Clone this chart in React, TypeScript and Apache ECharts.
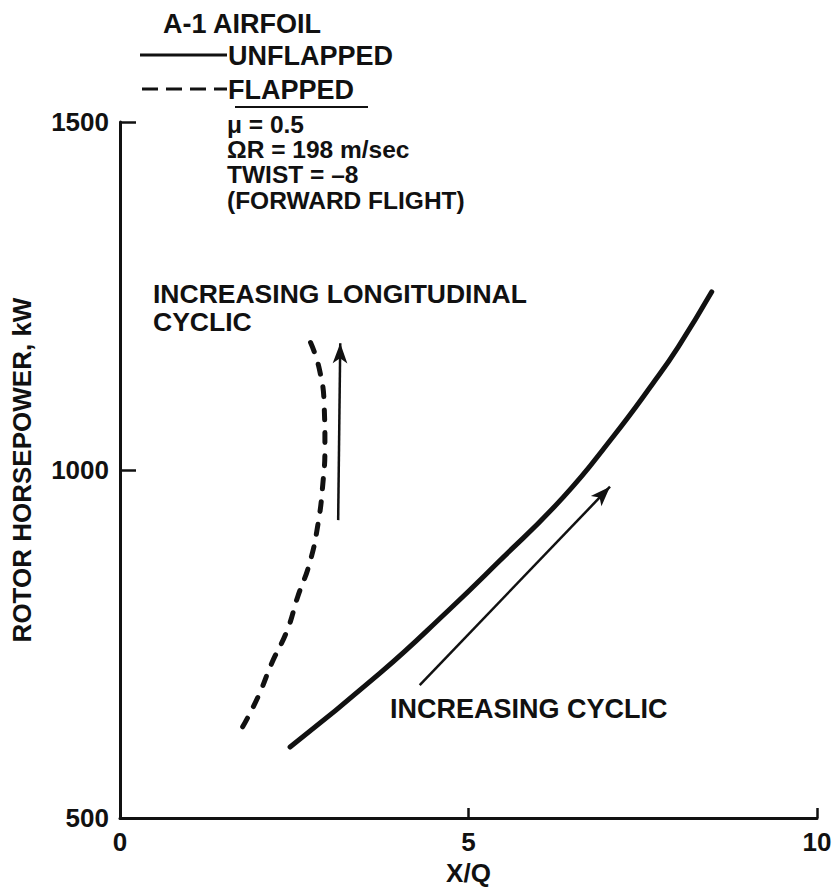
import React, { useEffect, useRef } from "react";
import * as echarts from "echarts";

// Unflapped rotor (solid) — X/Q vs rotor horsepower, kW
const unflappedX = [2.44, 3.73, 4.73, 5.41, 6.36, 7.06, 7.65, 8.01, 8.49];
const unflappedY = [602, 708, 800, 866, 961, 1046, 1125, 1177, 1256];

// Flapped rotor (dashed)
const flappedX = [1.76, 1.98, 2.18, 2.4, 2.55, 2.72, 2.84, 2.91, 2.94, 2.93, 2.86, 2.73];
const flappedY = [631, 674, 723, 770, 818, 866, 922, 980, 1033, 1091, 1145, 1184];

// Direction arrows: [x, kW] start and end
const longitudinalArrow = [
  [3.13, 928],
  [3.16, 1182],
];
const cyclicArrow = [
  [4.3, 691],
  [7.03, 976],
];

const xTicks = [0, 5, 10];
const yTicks = [500, 1000, 1500];

const conditions = ["\u03bc = 0.5", "\u03a9R = 198 m/sec", "TWIST = \u20138", "(FORWARD FLIGHT)"];

const FONT = '"Liberation Sans", Arial, Helvetica, sans-serif';
const INK = "#111";

function pairs(xs: number[], ys: number[]) {
  return xs.map((x, i) => [x, ys[i]]);
}

function label(text: string, x: number, y: number, fontSize = 27) {
  return {
    type: "text",
    x,
    y,
    silent: true,
    style: {
      text,
      fill: INK,
      fontFamily: FONT,
      fontSize,
      fontWeight: "bold",
      verticalAlign: "middle",
      align: "left",
    },
  };
}

export default function App() {
  const ref = useRef<HTMLDivElement>(null);

  useEffect(() => {
    if (!ref.current) return;
    const chart = echarts.init(ref.current, undefined, { renderer: "svg" });

    const axisText = {
      color: INK,
      fontFamily: FONT,
      fontSize: 26,
      fontWeight: "bold",
    };

    chart.setOption({
      animation: false,
      backgroundColor: "#fff",
      grid: {
        left: 120,
        right: 15,
        top: 122,
        bottom: 75,
        outerBoundsMode: "none",
      },
      xAxis: {
        type: "value",
        min: xTicks[0],
        max: xTicks[xTicks.length - 1],
        interval: 5,
        name: "X/Q",
        nameLocation: "middle",
        nameGap: 42,
        nameTextStyle: axisText,
        axisLine: { lineStyle: { color: INK, width: 3 } },
        axisTick: { inside: true, length: 10, lineStyle: { color: INK, width: 2.5 } },
        axisLabel: { ...axisText, margin: 11, formatter: (v: number) => String(v) },
        splitLine: { show: false },
      },
      yAxis: {
        type: "value",
        min: yTicks[0],
        max: yTicks[yTicks.length - 1],
        interval: 500,
        name: "ROTOR HORSEPOWER, kW",
        nameLocation: "middle",
        nameRotate: 90,
        nameGap: 85,
        nameTextStyle: axisText,
        axisLine: { onZero: false, lineStyle: { color: INK, width: 3 } },
        axisTick: { inside: true, length: 16, lineStyle: { color: INK, width: 2.5 } },
        axisLabel: { ...axisText, margin: 11, formatter: (v: number) => String(v) },
        splitLine: { show: false },
      },
      series: [
        {
          name: "UNFLAPPED",
          type: "line",
          data: pairs(unflappedX, unflappedY),
          smooth: 0.5,
          symbol: "none",
          silent: true,
          lineStyle: { color: INK, width: 5, cap: "round" },
        },
        {
          name: "FLAPPED",
          type: "line",
          data: pairs(flappedX, flappedY),
          smooth: 0.5,
          symbol: "none",
          silent: true,
          lineStyle: { color: INK, width: 5, type: [10, 13], cap: "round" },
        },
        {
          name: "arrows",
          type: "line",
          data: [],
          silent: true,
          markLine: {
            silent: true,
            animation: false,
            symbol: ["none", "arrow"],
            symbolSize: [11, 20],
            label: { show: false },
            lineStyle: { color: INK, width: 2.5, type: "solid" },
            emphasis: { disabled: true },
            data: [
              [
                { coord: longitudinalArrow[0], lineStyle: { curveness: -0.1 } },
                { coord: longitudinalArrow[1] },
              ],
              [{ coord: cyclicArrow[0] }, { coord: cyclicArrow[1] }],
            ],
          },
        },
      ],
      graphic: [
        label("A-1 AIRFOIL", 163, 24),
        {
          type: "line",
          silent: true,
          shape: { x1: 140, y1: 55, x2: 227, y2: 55 },
          style: { stroke: INK, lineWidth: 3 },
        },
        label("UNFLAPPED", 228, 56),
        {
          type: "line",
          silent: true,
          shape: { x1: 142, y1: 89, x2: 227, y2: 89 },
          style: { stroke: INK, lineWidth: 3, lineDash: [16, 8] },
        },
        label("FLAPPED", 228, 90),
        {
          type: "line",
          silent: true,
          shape: { x1: 235, y1: 107, x2: 368, y2: 107 },
          style: { stroke: INK, lineWidth: 2 },
        },
        ...conditions.map((t, i) => label(t, 227, 124 + i * 25.4, 24.5)),
        label("INCREASING LONGITUDINAL", 153, 294, 26.5),
        label("CYCLIC", 153, 322, 26.5),
        label("INCREASING CYCLIC", 390, 709),
      ],
    });

    return () => chart.dispose();
  }, []);

  return (
    <div
      ref={ref}
      style={{ position: "fixed", left: 0, top: 0, width: 832, height: 893, background: "#fff" }}
    />
  );
}
